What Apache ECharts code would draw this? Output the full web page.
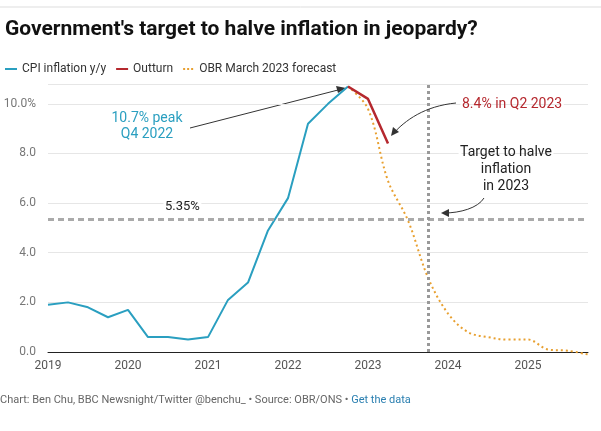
<!DOCTYPE html>
<html><head><meta charset="utf-8">
<script src="https://cdn.jsdelivr.net/npm/echarts@6/dist/echarts.min.js"></script>
<style>body{margin:0;background:#fff}#c{width:601px;height:431px}</style></head>
<body><div id="c"></div>
<script>
const years = ['2019','2020','2021','2022','2023','2024','2025'];
const quarters = [];
years.forEach(y => ['Q1','Q2','Q3','Q4'].forEach(q => quarters.push(y + ' ' + q)));
const cpi = [1.9,2.0,1.8,1.4,1.7,0.6,0.6,0.5,0.6,2.1,2.8,4.9,6.2,9.2,10.0,10.7];
const outturn = [null,null,null,null,null,null,null,null,null,null,null,null,null,null,null,10.7,10.2,8.4];
const forecast = [null,null,null,null,null,null,null,null,null,null,null,null,null,null,null,10.7,9.8,6.9,5.3,3.0,1.55,0.8,0.6,0.5,0.5,0.1,0.05,-0.1];
const target = 5.35;
const targetQuarter = '2023 Q4';

const chart = echarts.init(document.getElementById('c'));
const F = 'Roboto, sans-serif';
function arrow(pts, head){
  return [
    {type:'bezierCurve', shape:pts, style:{stroke:'#333', lineWidth:1, fill:null}, z:100},
    {type:'polygon', shape:{points:head}, style:{fill:'#333'}, z:100}
  ];
}
const halo = {textBorderColor:'#fff', textBorderWidth:3};
chart.setOption({
  animation:false,
  textStyle:{fontFamily:F},
  title:{text:"Government's target to halve inflation in jeopardy?", left:0, top:14,
    textStyle:{fontSize:21, fontWeight:'bold', color:'#111', fontFamily:F}},
  legend:{left:0, top:58, itemWidth:12, itemHeight:2, itemGap:10, icon:'rect',
    textStyle:{fontSize:12, color:'#333', fontFamily:F},
    data:[{name:'CPI inflation y/y'},{name:'Outturn'},{name:'OBR March 2023 forecast', icon:'path://M0,0h2v2h-2zM4,0h2v2h-2zM8,0h2v2h-2z'}]},
  grid:{left:48, right:13, top:84, bottom:79},
  xAxis:{type:'category', data:quarters, boundaryGap:false,
    axisLine:{lineStyle:{color:'#222'}}, axisTick:{show:false},
    axisLabel:{interval:3, color:'#555', fontSize:12, formatter:v=>v.slice(0,4)}},
  yAxis:{type:'value', min:0, max:10.8, interval:2,
    axisLine:{show:false}, axisTick:{show:false},
    splitLine:{lineStyle:{color:'#e6e6e6'}},
    axisLabel:{color:'#777', fontSize:12, margin:12, showMaxLabel:false,
      formatter:v=>v===10?'10.0%':(v>10?'':v.toFixed(1))}},
  series:[
    {name:'CPI inflation y/y', type:'line', data:cpi, symbol:'none', color:'#2a9fc0',
      lineStyle:{width:2}, z:3,
      markLine:{symbol:'none', silent:true, label:{show:false},
        data:[
          {yAxis:target, lineStyle:{type:[6,4], color:'#aaa', width:3}},
          {xAxis:targetQuarter, lineStyle:{type:[3,3], color:'#999', width:3}}
        ]}},
    {name:'Outturn', type:'line', data:outturn, symbol:'none', color:'#b5282e', lineStyle:{width:2.5}, z:4},
    {name:'OBR March 2023 forecast', type:'line', data:forecast, symbol:'none', smooth:0.35, clip:false,
      color:'#e8a030', lineStyle:{width:2, type:[2,3]}, z:2}
  ],
  graphic:[
    {type:'line', shape:{x1:0,y1:7,x2:601,y2:7}, style:{stroke:'#ddd', lineWidth:1}},
    {type:'text', z:50, style:Object.assign({x:147, y:110, text:'10.7% peak\nQ4 2022', fill:'#2a9fc0', font:'14px Roboto', align:'center', lineHeight:16}, halo)},
    {type:'text', z:50, style:Object.assign({x:462, y:97, text:'8.4% in Q2 2023', fill:'#b5282e', font:'14px Roboto'}, halo)},
    {type:'text', z:50, style:Object.assign({x:506, y:144, text:'Target to halve\ninflation\nin 2023', fill:'#222', font:'14px Roboto', align:'center', lineHeight:17}, halo)},
    {type:'text', z:50, style:Object.assign({x:165, y:200, text:'5.35%', fill:'#222', font:'13px Roboto'}, halo)},
    {type:'line', shape:{x1:190,y1:128,x2:338,y2:90}, style:{stroke:'#333', lineWidth:1}},
    {type:'polygon', shape:{points:[[346,88],[336,86],[338,93]]}, style:{fill:'#333'}},
    ...arrow({x1:456,y1:103,x2:392,y2:135,cpx1:425,cpy1:106,cpx2:405,cpy2:120}, [[391,136],[393,127],[399,132]]),
    ...arrow({x1:484,y1:198,x2:444,y2:213,cpx1:478,cpy1:208,cpx2:460,cpy2:213}, [[441,213],[449,209],[449,217]]),
    {type:'text', style:{x:0, y:395, rich:{a:{fill:'#666',font:'11px Roboto'},b:{fill:'#2a7fb0',font:'11px Roboto'}},
      text:'{a|Chart: Ben Chu, BBC Newsnight/Twitter @benchu_ • Source: OBR/ONS • }{b|Get the data}'}}
  ]
});
</script></body></html>
